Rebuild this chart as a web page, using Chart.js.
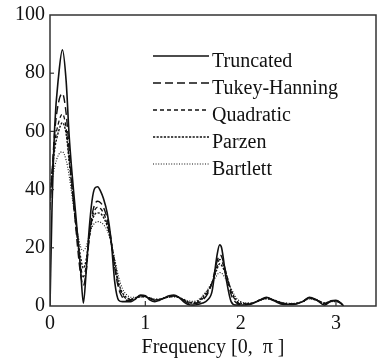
<!DOCTYPE html>
<html>
<head>
<meta charset="utf-8">
<script src="https://cdn.jsdelivr.net/npm/chart.js@4/dist/chart.umd.min.js"></script>
<style>
  html, body { margin: 0; padding: 0; background: #fff; }
  #wrap { width: 378px; height: 360px; }
</style>
</head>
<body>
<div id="wrap"><canvas id="spec"></canvas></div>
<script>
'use strict'

const labels = ["Truncated", "Tukey-Hanning", "Quadratic", "Parzen", "Bartlett"]

const freq = [0, 0.02, 0.05, 0.09, 0.13, 0.17, 0.2, 0.23, 0.26, 0.29, 0.32, 0.35, 0.38, 0.41, 0.44, 0.47, 0.5, 0.53, 0.56, 0.6, 0.64, 0.68, 0.72, 0.76, 0.8, 0.85, 0.9, 0.95, 1.0, 1.05, 1.1, 1.15, 1.2, 1.25, 1.3, 1.35, 1.4, 1.45, 1.5, 1.55, 1.6, 1.65, 1.7, 1.75, 1.78, 1.8, 1.85, 1.9, 1.95, 2.0, 2.1, 2.2, 2.27, 2.35, 2.45, 2.55, 2.65, 2.72, 2.8, 2.88, 2.95, 3.0, 3.05, 3.08]

const truncated = [0, 32, 62, 79, 88, 77, 59, 46, 35, 24, 13, 1, 12, 26, 36, 40.5, 41, 39.5, 37, 32, 23, 8, 2, 1.5, 1.5, 1.5, 2.5, 3.8, 3.5, 2, 1.5, 2, 2.8, 3.5, 3.8, 3, 1.5, 0.5, 0.3, 0.5, 1, 2, 5, 17, 21, 20, 9, 1.5, 0.3, 0.3, 0.5, 2, 3, 1.8, 0.5, 0.5, 1.5, 3, 2, 0.3, 1.8, 2, 1, 0]
const tukey = [33, 45, 60, 70, 73, 66, 54, 42, 31, 20, 11, 7, 12, 23, 31, 35, 36, 35.5, 34, 30, 23, 13, 6, 3, 2, 2, 2.8, 3.5, 3.5, 2.5, 2, 2.2, 2.8, 3.3, 3.5, 3, 2, 1, 0.8, 1, 2, 4, 8, 15, 17.5, 17, 11, 4, 1.2, 0.5, 0.7, 2, 2.8, 2, 0.8, 0.6, 1.5, 2.8, 2, 0.8, 1.7, 1.8, 1, 0]
const quadratic = [36, 45, 56, 63, 66, 61, 51, 41, 31, 22, 14, 10, 14, 23, 30, 33, 34, 33.5, 32, 28.5, 22, 14, 7, 4, 2.5, 2.2, 2.8, 3.3, 3.3, 2.6, 2.1, 2.2, 2.7, 3.2, 3.4, 3, 2.1, 1.2, 1, 1.3, 2.5, 4.5, 8, 13.5, 16, 15.5, 11, 5, 1.8, 0.7, 0.8, 2, 2.7, 2, 0.9, 0.7, 1.5, 2.7, 2, 0.9, 1.6, 1.7, 1, 0]
const parzen = [38, 45, 54, 60, 63, 59, 50, 41, 32, 24, 17, 13, 16, 23, 29, 31.5, 32, 31.8, 30.5, 27.5, 22, 15, 8, 4.5, 3, 2.4, 2.8, 3.2, 3.2, 2.7, 2.2, 2.3, 2.7, 3.1, 3.3, 3, 2.2, 1.4, 1.2, 1.6, 3, 5, 8, 12.5, 14.5, 14, 10.5, 5.5, 2.2, 0.9, 0.9, 2, 2.6, 2, 1, 0.8, 1.5, 2.6, 2, 1, 1.6, 1.6, 1, 0]
const bartlett = [40, 43, 48, 52, 53, 50, 45, 38, 31, 25, 20.5, 19, 20.5, 24, 27, 28.5, 29, 28.8, 28, 26, 22, 16, 10, 6, 4, 3, 3, 3.1, 3.1, 2.8, 2.4, 2.4, 2.7, 3, 3.1, 2.9, 2.4, 1.8, 1.6, 2, 3.5, 5.5, 8, 10.5, 11.5, 11.3, 9, 6, 3, 1.5, 1, 1.9, 2.4, 1.9, 1.1, 0.9, 1.5, 2.4, 1.9, 1.1, 1.5, 1.5, 0.9, 0]

const yTicks = [0, 20, 40, 60, 80, 100]
const xTicks = [0, 1, 2, 3]

const serif = "'Liberation Serif', 'DejaVu Serif', serif"
const ink = '#111'

const series = [truncated, tukey, quadratic, parzen, bartlett]
const dashes = [[], [8, 4], [4, 3], [2.2, 1.4], [1, 1.6]]
const widths = [1.6, 1.4, 1.3, 1.4, 1.1]

const datasets = series.map((vals, i) => ({
    label: labels[i],
    data: vals.map((v, j) => ({ x: freq[j], y: v })),
    borderColor: ink,
    borderWidth: widths[i],
    borderDash: dashes[i],
    pointRadius: 0,
    fill: false,
    cubicInterpolationMode: 'monotone'
}))

// frame, inward tick marks and the legend block
const framePlugin = {
    id: 'frame',
    afterDraw(chart) {
        const { ctx, chartArea: a, scales } = chart
        ctx.save()
        ctx.strokeStyle = '#333'
        ctx.lineWidth = 1.5
        ctx.setLineDash([])
        ctx.strokeRect(a.left, a.top, a.right - a.left, a.bottom - a.top)

        ctx.lineWidth = 1.2
        yTicks.slice(1, -1).forEach(v => {
            const y = scales.y.getPixelForValue(v)
            ctx.beginPath()
            ctx.moveTo(a.left, y)
            ctx.lineTo(a.left + 4, y)
            ctx.stroke()
        })
        xTicks.slice(1).forEach(v => {
            const x = scales.x.getPixelForValue(v)
            ctx.beginPath()
            ctx.moveTo(x, a.bottom)
            ctx.lineTo(x, a.bottom - 5)
            ctx.stroke()
        })

        // legend
        ctx.font = '20px ' + serif
        ctx.fillStyle = ink
        ctx.textAlign = 'left'
        ctx.textBaseline = 'alphabetic'
        chart.data.datasets.forEach((ds, i) => {
            const y = a.top + 41 + i * 27
            ctx.strokeStyle = ink
            ctx.lineWidth = ds.borderWidth
            ctx.setLineDash(ds.borderDash)
            ctx.beginPath()
            ctx.moveTo(153, y)
            ctx.lineTo(209, y)
            ctx.stroke()
            ctx.fillText(ds.label, 212, y + 11)
        })
        ctx.restore()
    }
}

new Chart(document.getElementById('spec'), {
    type: 'line',
    data: { datasets: datasets },
    options: {
        responsive: true,
        maintainAspectRatio: false,
        animation: false,
        layout: { padding: { top: 12, right: 2, left: 0, bottom: 0 } },
        plugins: {
            legend: { display: false },
            tooltip: { enabled: false }
        },
        scales: {
            x: {
                type: 'linear',
                min: 0,
                max: 3.42,
                afterBuildTicks: s => { s.ticks = xTicks.map(v => ({ value: v })) },
                afterFit: s => { s.height = 54 },
                grid: { display: false, drawTicks: false },
                border: { display: false },
                ticks: {
                    padding: 6,
                    maxRotation: 0,
                    color: ink,
                    font: { family: serif, size: 20 }
                },
                title: {
                    display: true,
                    text: 'Frequency [0,  π ]',
                    color: ink,
                    font: { family: serif, size: 20 },
                    padding: { top: 0, bottom: 0 }
                }
            },
            y: {
                min: 0,
                max: 100,
                afterBuildTicks: s => { s.ticks = yTicks.map(v => ({ value: v })) },
                afterFit: s => { s.width = 50 },
                grid: { display: false, drawTicks: false },
                border: { display: false },
                ticks: {
                    padding: 5,
                    color: ink,
                    font: { family: serif, size: 20, lineHeight: 1 }
                }
            }
        }
    },
    plugins: [framePlugin]
})
</script>
</body>
</html>
